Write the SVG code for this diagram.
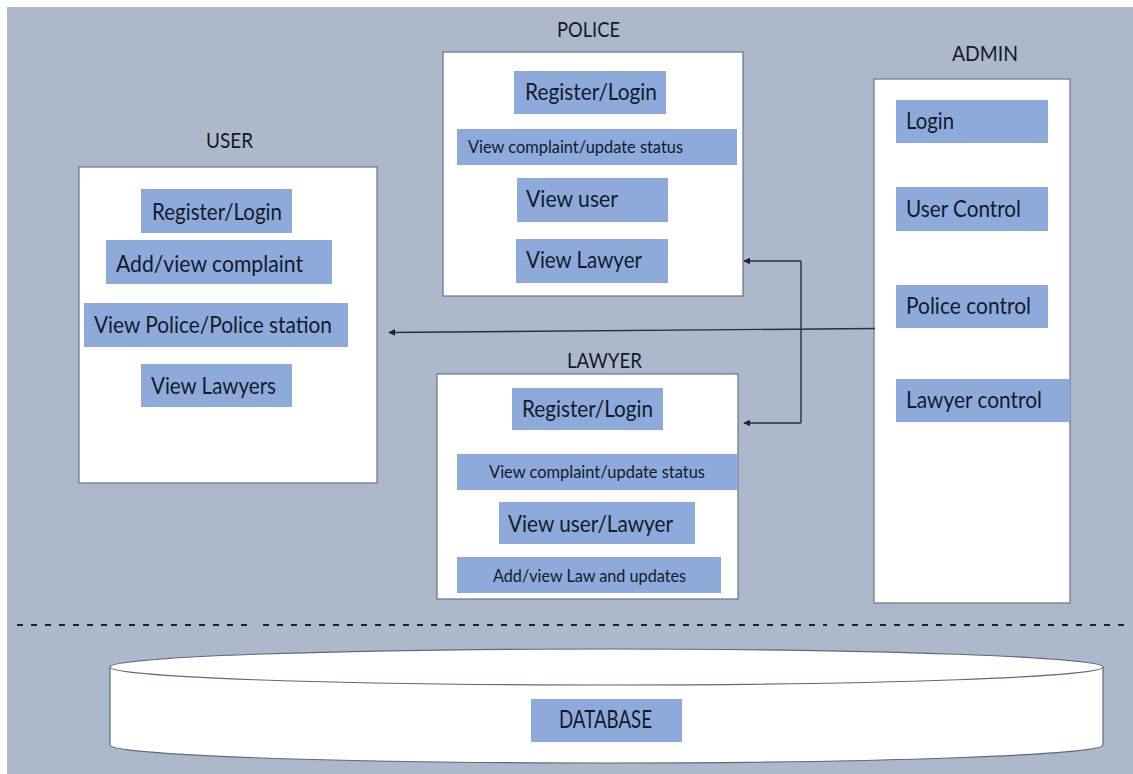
<svg xmlns="http://www.w3.org/2000/svg" width="1133" height="774" viewBox="0 0 1133 774">
<defs>
<style>
.bg{fill:#adb9ca}
.panel{fill:#ffffff;stroke:#66738a;stroke-width:1.2}
.item{fill:#8eaadb}
.t{font-family:Lato,"Open Sans","Liberation Sans",sans-serif;fill:#121a2b}
.lg{font-size:22.5px}
.sm{font-size:18px}
.ti{font-size:22px}
.conn{fill:none;stroke:#2a2f3a;stroke-width:1.4}
.dash{fill:none;stroke:#1c2230;stroke-width:2;stroke-dasharray:6 8}
</style>
<marker id="arr" viewBox="0 0 10 10" refX="9" refY="5" markerWidth="7" markerHeight="7" markerUnits="userSpaceOnUse" orient="auto">
<path d="M0,0 L10,5 L0,10 z" fill="#1c2230"/>
</marker>
</defs>
<rect width="1133" height="774" fill="#ffffff"/>
<rect class="bg" x="7" y="7" width="1126" height="767"/>

<g id="user">
<text class="t ti" x="206" y="148" textLength="47" lengthAdjust="spacingAndGlyphs">USER</text>
<rect class="panel" x="79" y="167" width="298" height="316"/>
<rect class="item" x="141" y="189" width="151" height="44"/>
<text class="t lg" x="152" y="220" textLength="130" lengthAdjust="spacingAndGlyphs">Register/Login</text>
<rect class="item" x="106" y="240" width="226" height="44"/>
<text class="t lg" x="116" y="272" textLength="187" lengthAdjust="spacingAndGlyphs">Add/view complaint</text>
<rect class="item" x="84" y="303" width="264" height="44"/>
<text class="t lg" x="94" y="333" textLength="238" lengthAdjust="spacingAndGlyphs">View Police/Police station</text>
<rect class="item" x="141" y="364" width="151" height="43"/>
<text class="t lg" x="151" y="394" textLength="125" lengthAdjust="spacingAndGlyphs">View Lawyers</text>
</g>

<g id="police">
<text class="t ti" x="557" y="37" textLength="63" lengthAdjust="spacingAndGlyphs">POLICE</text>
<rect class="panel" x="443" y="52" width="300" height="244"/>
<rect class="item" x="514" y="71" width="152" height="43"/>
<text class="t lg" x="525" y="100" textLength="132" lengthAdjust="spacingAndGlyphs">Register/Login</text>
<rect class="item" x="457" y="129" width="280" height="36"/>
<text class="t sm" x="468" y="153" textLength="215" lengthAdjust="spacingAndGlyphs">View complaint/update status</text>
<rect class="item" x="517" y="178" width="151" height="44"/>
<text class="t lg" x="526" y="207" textLength="92" lengthAdjust="spacingAndGlyphs">View user</text>
<rect class="item" x="516" y="239" width="152" height="44"/>
<text class="t lg" x="526" y="268" textLength="116" lengthAdjust="spacingAndGlyphs">View Lawyer</text>
</g>

<g id="lawyer">
<text class="t ti" x="567" y="368" textLength="75" lengthAdjust="spacingAndGlyphs">LAWYER</text>
<rect class="panel" x="437" y="374" width="301" height="225"/>
<rect class="item" x="512" y="388" width="151" height="42"/>
<text class="t lg" x="522" y="417" textLength="131" lengthAdjust="spacingAndGlyphs">Register/Login</text>
<rect class="item" x="457" y="454" width="281" height="36"/>
<text class="t sm" x="489" y="478" textLength="216" lengthAdjust="spacingAndGlyphs">View complaint/update status</text>
<rect class="item" x="499" y="502" width="196" height="42"/>
<text class="t lg" x="508" y="532" textLength="165" lengthAdjust="spacingAndGlyphs">View user/Lawyer</text>
<rect class="item" x="457" y="557" width="264" height="36"/>
<text class="t sm" x="493" y="582" textLength="193" lengthAdjust="spacingAndGlyphs">Add/view Law and updates</text>
</g>

<g id="admin">
<text class="t ti" x="952" y="61" textLength="66" lengthAdjust="spacingAndGlyphs">ADMIN</text>
<rect class="panel" x="874" y="79" width="196" height="524"/>
<rect class="item" x="896" y="100" width="152" height="43"/>
<text class="t lg" x="906" y="129" textLength="48" lengthAdjust="spacingAndGlyphs">Login</text>
<rect class="item" x="896" y="187" width="152" height="44"/>
<text class="t lg" x="906" y="217" textLength="115" lengthAdjust="spacingAndGlyphs">User Control</text>
<rect class="item" x="896" y="285" width="152" height="43"/>
<text class="t lg" x="906" y="314" textLength="125" lengthAdjust="spacingAndGlyphs">Police control</text>
<rect class="item" x="896" y="379" width="174" height="43"/>
<text class="t lg" x="906" y="408" textLength="136" lengthAdjust="spacingAndGlyphs">Lawyer control</text>
</g>

<g id="separator">
<line class="dash" x1="17" y1="625" x2="253" y2="625"/>
<line class="dash" x1="263" y1="625" x2="827" y2="625"/>
<line class="dash" x1="838" y1="625" x2="1124" y2="625"/>
</g>

<g id="database">
<path d="M110,667 L110,745 A496.5,18 0 0 0 1103,745 L1103,667" fill="#ffffff" stroke="#5d6a80" stroke-width="1.2"/>
<ellipse cx="606.5" cy="667" rx="496.5" ry="18" fill="#ffffff" stroke="#5d6a80" stroke-width="1.2"/>
<rect class="item" x="531" y="699" width="151" height="43"/>
<text class="t" font-size="25" x="559" y="728" textLength="93" lengthAdjust="spacingAndGlyphs">DATABASE</text>
</g>

<g id="connectors">
<line class="conn" x1="875" y1="328.5" x2="389" y2="332.5" marker-end="url(#arr)"/>
<polyline class="conn" points="801,261 801,423"/>
<line class="conn" x1="801" y1="261" x2="744" y2="261" marker-end="url(#arr)"/>
<line class="conn" x1="801" y1="423" x2="744" y2="423" marker-end="url(#arr)"/>
</g>
</svg>
